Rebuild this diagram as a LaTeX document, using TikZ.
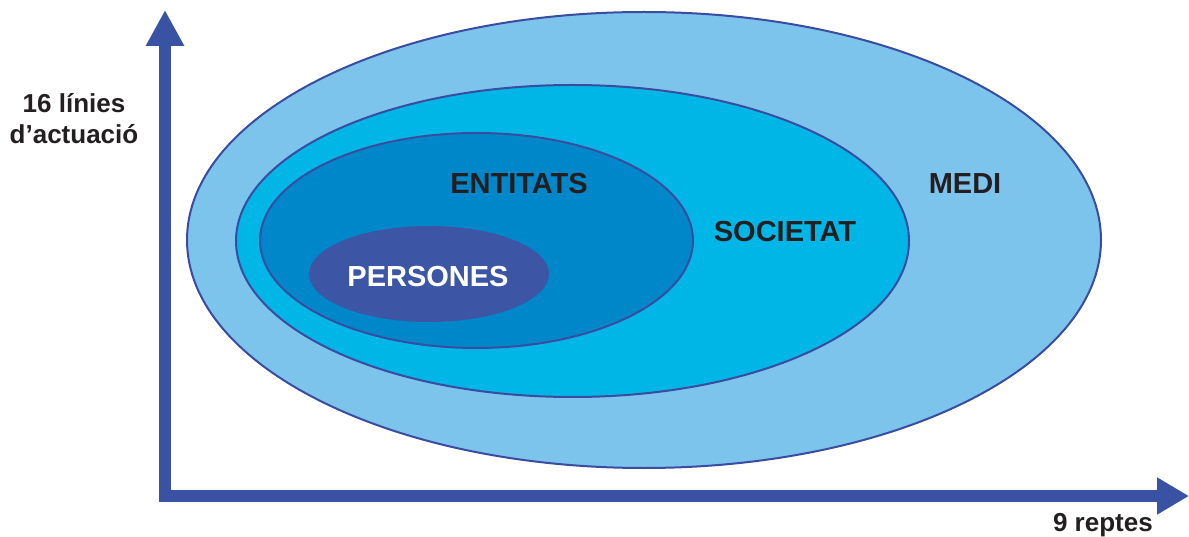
\documentclass[tikz,border=0pt]{standalone}
\usepackage{fontspec}
\setmainfont{Liberation Sans}
\usetikzlibrary{arrows.meta}
\definecolor{mediC}{HTML}{7DC4EC}
\definecolor{socC}{HTML}{00B6E7}
\definecolor{entC}{HTML}{0087C9}
\definecolor{perC}{HTML}{3C55A5}
\definecolor{lineC}{HTML}{3A4CA0}
\definecolor{axisC}{HTML}{3952A4}
\definecolor{txtC}{HTML}{231F20}
\tikzset{
  ring/.style={draw=lineC, line width=2pt},
  biglabel/.style={font=\bfseries\fontsize{29}{35}\selectfont, text=txtC, inner sep=0pt},
  axislabel/.style={font=\bfseries\fontsize{26}{31}\selectfont, text=txtC, inner sep=0pt, align=center},
  axisarrow/.style={draw=axisC, line width=12pt}
}
\begin{document}
\begin{tikzpicture}[x=1pt,y=-1pt]
\useasboundingbox (0,0) rectangle (1189,537);
% ellipses
\path[ring, fill=mediC] (644,240) ellipse [x radius=457pt, y radius=228pt];
\path[ring, fill=socC] (572.5,241) ellipse [x radius=336.5pt, y radius=156pt];
\path[ring, fill=entC] (476.5,240.5) ellipse [x radius=216.5pt, y radius=107.5pt];
\path[fill=perC] (429,274) ellipse [x radius=120pt, y radius=48pt];
% labels
\node[biglabel] (medi) at (965,184) {MEDI};
\node[biglabel] (soc) at (785,231.5) {SOCIETAT};
\node[biglabel] (ent) at (519,183.5) {ENTITATS};
\node[biglabel, text=white] (per) at (428,277) {PERSONES};
% axes
\coordinate (vbot) at (165,502);
\coordinate (vtop) at (165,10);
\coordinate (hleft) at (159,496);
\coordinate (hright) at (1189,496);
\draw[axisarrow, -{Triangle[width=36pt,length=36pt]}] (vbot) -- (vtop);
\draw[axisarrow, -{Triangle[width=35pt,length=32pt]}] (hleft) -- (hright);
\node[axislabel, anchor=base] (ylab) at (74,144) {16 línies\\d’actuació};
\node[axislabel, anchor=base east] (xlab) at (1153,531) {9 reptes};
\end{tikzpicture}
\end{document}
